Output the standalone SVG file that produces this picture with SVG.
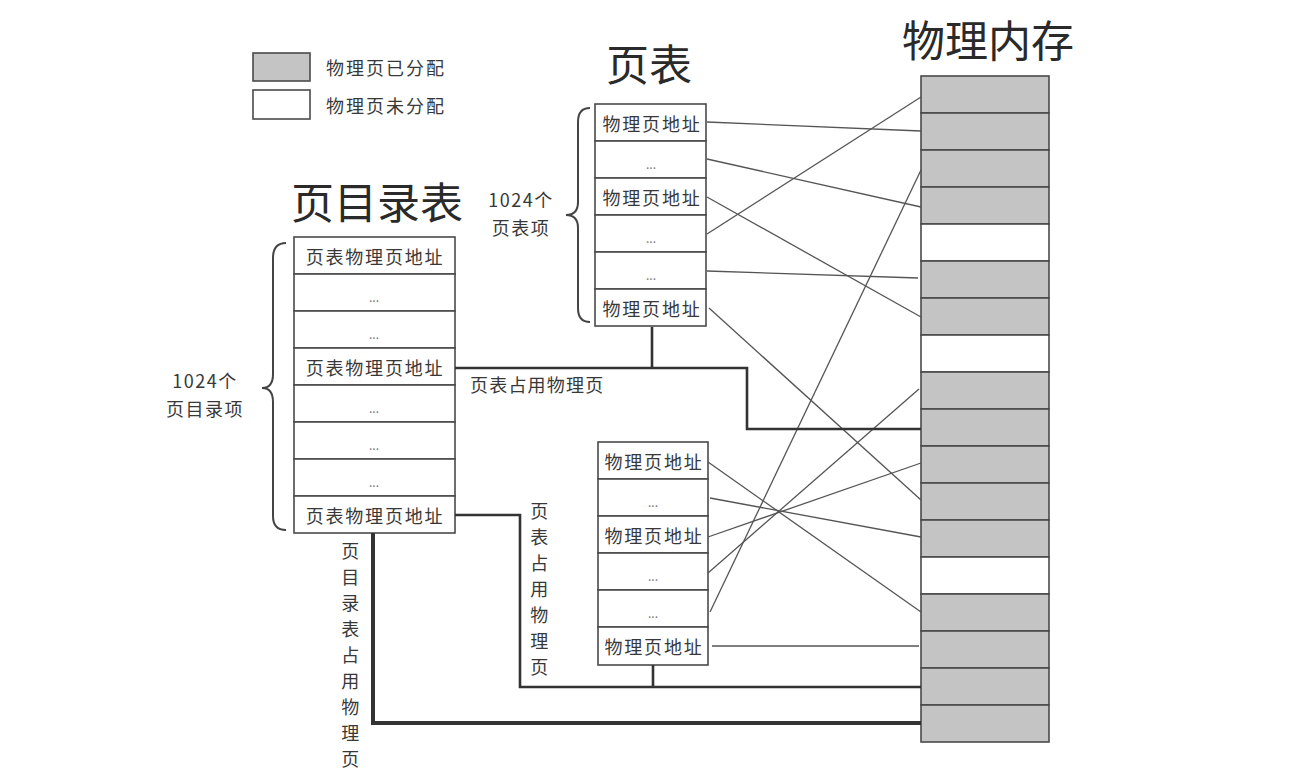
<svg xmlns="http://www.w3.org/2000/svg" width="1290" height="771" viewBox="0 0 1290 771">
<style>
text{font-family:"Noto Sans CJK SC","Noto Sans",sans-serif;fill:#383838}
.cell{fill:#fff;stroke:#4a4a4a;stroke-width:1.6}
.used{fill:#c4c4c4;stroke:#4a4a4a;stroke-width:1.6}
.free{fill:#fff;stroke:#4a4a4a;stroke-width:1.6}
.t{font-size:18px;letter-spacing:1.8px;text-anchor:middle;dominant-baseline:central}
.dots{font-size:12px;text-anchor:middle;dominant-baseline:central;fill:#777}
.title{font-size:43px;text-anchor:middle;dominant-baseline:central;fill:#2a2a2a}
.lbl{font-size:18px;letter-spacing:1.5px;text-anchor:middle;dominant-baseline:central}
.map{stroke:#555;stroke-width:1.3;fill:none}
.occ{stroke:#333;stroke-width:2.6;fill:none}
.occ2{stroke:#333;stroke-width:4;fill:none}
.brace{stroke:#444;stroke-width:2;fill:none}
</style>

<g id="legend">
<rect x="253" y="53" width="57" height="28" class="used"/>
<rect x="253" y="90" width="57" height="29" class="free"/>
<text x="326" y="67" class="lbl" style="text-anchor:start;letter-spacing:2px">物理页已分配</text>
<text x="326" y="105" class="lbl" style="text-anchor:start;letter-spacing:2px">物理页未分配</text>
</g>

<g id="titles">
<text x="988" y="38" class="title">物理内存</text>
<text x="649" y="62" class="title">页表</text>
<text x="377" y="200" class="title">页目录表</text>
</g>

<g id="physical-memory">
<rect x="921" y="76" width="128" height="37" class="used"/>
<rect x="921" y="113" width="128" height="37" class="used"/>
<rect x="921" y="150" width="128" height="37" class="used"/>
<rect x="921" y="187" width="128" height="37" class="used"/>
<rect x="921" y="224" width="128" height="37" class="free"/>
<rect x="921" y="261" width="128" height="37" class="used"/>
<rect x="921" y="298" width="128" height="37" class="used"/>
<rect x="921" y="335" width="128" height="37" class="free"/>
<rect x="921" y="372" width="128" height="37" class="used"/>
<rect x="921" y="409" width="128" height="37" class="used"/>
<rect x="921" y="446" width="128" height="37" class="used"/>
<rect x="921" y="483" width="128" height="37" class="used"/>
<rect x="921" y="520" width="128" height="37" class="used"/>
<rect x="921" y="557" width="128" height="37" class="free"/>
<rect x="921" y="594" width="128" height="37" class="used"/>
<rect x="921" y="631" width="128" height="37" class="used"/>
<rect x="921" y="668" width="128" height="37" class="used"/>
<rect x="921" y="705" width="128" height="37" class="used"/>
</g>

<g id="page-directory">
<rect x="294" y="237" width="161" height="37" class="cell"/>
<rect x="294" y="274" width="161" height="37" class="cell"/>
<rect x="294" y="311" width="161" height="37" class="cell"/>
<rect x="294" y="348" width="161" height="37" class="cell"/>
<rect x="294" y="385" width="161" height="37" class="cell"/>
<rect x="294" y="422" width="161" height="37" class="cell"/>
<rect x="294" y="459" width="161" height="37" class="cell"/>
<rect x="294" y="496" width="161" height="37" class="cell"/>
<text x="375" y="256" class="t">页表物理页地址</text>
<text x="374" y="296" class="dots">...</text>
<text x="374" y="333" class="dots">...</text>
<text x="375" y="367" class="t">页表物理页地址</text>
<text x="374" y="407" class="dots">...</text>
<text x="374" y="444" class="dots">...</text>
<text x="374" y="481" class="dots">...</text>
<text x="375" y="515" class="t">页表物理页地址</text>
<path class="brace" d="M286,243 Q273,243 273,258 L273,374 Q273,388 262,388 Q273,388 273,402 L273,516 Q273,530 286,530"/>
<text x="205" y="380" class="lbl">1024个</text>
<text x="205" y="408" class="lbl">页目录项</text>
</g>

<g id="page-table-1">
<rect x="595" y="104" width="111" height="37" class="cell"/>
<rect x="595" y="141" width="111" height="37" class="cell"/>
<rect x="595" y="178" width="111" height="37" class="cell"/>
<rect x="595" y="215" width="111" height="37" class="cell"/>
<rect x="595" y="252" width="111" height="37" class="cell"/>
<rect x="595" y="289" width="111" height="37" class="cell"/>
<text x="652" y="123" class="t">物理页地址</text>
<text x="651" y="163" class="dots">...</text>
<text x="652" y="197" class="t">物理页地址</text>
<text x="651" y="237" class="dots">...</text>
<text x="651" y="274" class="dots">...</text>
<text x="652" y="308" class="t">物理页地址</text>
<path class="brace" d="M590,108 Q578,108 578,122 L578,202 Q578,215 566,215 Q578,215 578,228 L578,308 Q578,322 590,322"/>
<text x="521" y="199" class="lbl">1024个</text>
<text x="521" y="227" class="lbl">页表项</text>
</g>

<g id="page-table-2">
<rect x="598" y="442" width="110" height="37" class="cell"/>
<rect x="598" y="479" width="110" height="37" class="cell"/>
<rect x="598" y="516" width="110" height="37" class="cell"/>
<rect x="598" y="553" width="110" height="37" class="cell"/>
<rect x="598" y="590" width="110" height="37" class="cell"/>
<rect x="598" y="627" width="110" height="38" class="cell"/>
<text x="654" y="461" class="t">物理页地址</text>
<text x="653" y="501" class="dots">...</text>
<text x="654" y="535" class="t">物理页地址</text>
<text x="653" y="575" class="dots">...</text>
<text x="653" y="612" class="dots">...</text>
<text x="654" y="646" class="t">物理页地址</text>
</g>

<g id="connectors">
<line class="map" x1="707" y1="122" x2="921" y2="131"/>
<line class="map" x1="707" y1="159" x2="921" y2="207"/>
<line class="map" x1="707" y1="197" x2="921" y2="317"/>
<line class="map" x1="707" y1="234" x2="921" y2="97"/>
<line class="map" x1="707" y1="271" x2="918" y2="278"/>
<line class="map" x1="709" y1="308" x2="921" y2="500"/>
<line class="map" x1="708" y1="462" x2="921" y2="612"/>
<line class="map" x1="710" y1="498" x2="921" y2="537"/>
<line class="map" x1="708" y1="537" x2="921" y2="463"/>
<line class="map" x1="708" y1="573" x2="919" y2="389"/>
<line class="map" x1="710" y1="612" x2="921" y2="170"/>
<line class="map" x1="712" y1="646" x2="919" y2="646"/>
<path class="occ" d="M652,327 L652,368"/>
<path class="occ" d="M455,368 L747,368 L747,429 L921,429"/>
<path class="occ" d="M455,515 L520,515 L520,687 L921,687"/>
<path class="occ" d="M653,665 L653,687"/>
<path class="occ2" d="M373,533 L373,723 L921,723"/>
<text x="470" y="384" class="lbl" style="text-anchor:start;letter-spacing:1.2px">页表占用物理页</text>
<g>
<text x="540" y="510" class="lbl">页</text>
<text x="540" y="536" class="lbl">表</text>
<text x="540" y="562" class="lbl">占</text>
<text x="540" y="588" class="lbl">用</text>
<text x="540" y="614" class="lbl">物</text>
<text x="540" y="640" class="lbl">理</text>
<text x="540" y="666" class="lbl">页</text>
</g>
<g>
<text x="351" y="550" class="lbl">页</text>
<text x="351" y="576" class="lbl">目</text>
<text x="351" y="602" class="lbl">录</text>
<text x="351" y="628" class="lbl">表</text>
<text x="351" y="654" class="lbl">占</text>
<text x="351" y="680" class="lbl">用</text>
<text x="351" y="706" class="lbl">物</text>
<text x="351" y="732" class="lbl">理</text>
<text x="351" y="758" class="lbl">页</text>
</g>
</g>
</svg>
